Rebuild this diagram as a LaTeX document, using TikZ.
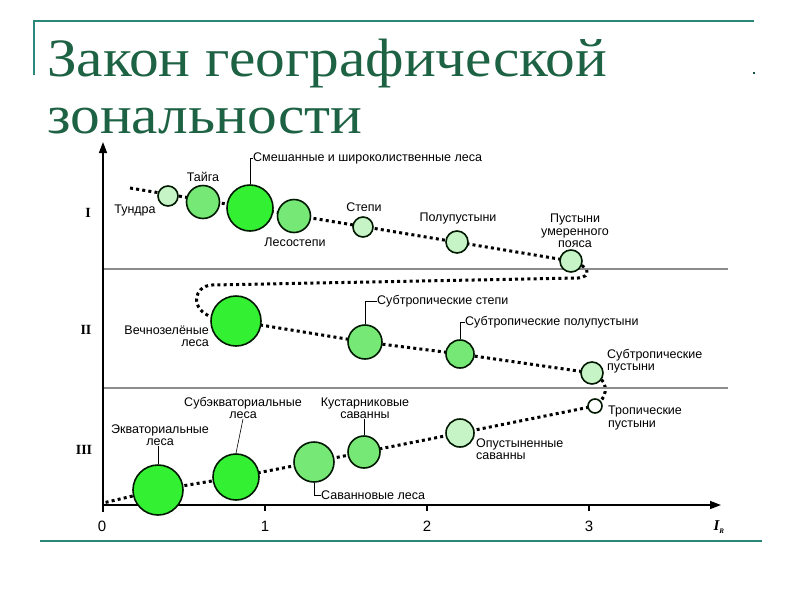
\documentclass[tikz,border=0pt]{standalone}
\usepackage{fontspec}
\setmainfont{Liberation Serif}
\setsansfont{Liberation Sans}
\usetikzlibrary{positioning}
\usetikzlibrary{calc}
\usetikzlibrary{arrows.meta}
\usetikzlibrary{backgrounds}
\definecolor{rich}{RGB}{51,240,51}
\definecolor{mid}{RGB}{118,232,118}
\definecolor{pale}{RGB}{198,244,198}
\definecolor{titlegreen}{RGB}{30,98,68}
\definecolor{frameteal}{RGB}{42,136,122}
\definecolor{bandgray}{RGB}{140,140,140}

\begin{document}
\begin{tikzpicture}[
    x=1pt, y=-1pt,
    biome/.style={circle, draw=black!90!green, line width=1.6pt, inner sep=0pt},
    lab/.style={font=\sffamily\fontsize{12.5}{12.3}\selectfont, align=center, inner sep=0pt},
    dots/.style={line width=3pt, dash pattern=on 3pt off 3.2pt},
    leader/.style={line width=0.6pt},
    zonenum/.style={font=\fontsize{14}{14}\selectfont\bfseries, inner sep=0pt},
    ticklab/.style={font=\sffamily\fontsize{15}{15}\selectfont, inner sep=0pt},
    heading/.style={anchor=base west, inner sep=0pt, text=titlegreen, font=\fontsize{54}{54}\selectfont, xscale=1.1, transform shape},
    >=Latex
]
    \useasboundingbox (0,0) rectangle (800,600);

    % frame of the slide
    \draw[frameteal, line width=1.6pt] (34,75) -- (34,21) -- (754,21);
    \fill[frameteal!60!black] (753,72) rectangle (755,74);
    \draw[frameteal, line width=1.6pt] (40,541) -- (762,541);

    % title
    \node[heading] (title1) at (47,76) {Закон географической};
    \node[heading] (title2) at (47,133) {зональности};

    % axes
    \coordinate (origin) at (103,505);
    \coordinate (ybot) at (103,512);
    \coordinate (ytop) at (103,142);
    \coordinate (xend) at (721,505);
    \draw[bandgray, line width=1.3pt] (103,269) -- (728,269);
    \draw[bandgray, line width=1.3pt] (103,388) -- (728,388);
    \draw[line width=1.5pt, -{Triangle[length=11pt, width=8pt]}] (ybot) -- (ytop);
    \draw[line width=1.5pt, -{Triangle[length=11pt, width=8pt]}] (origin) -- (xend);
    \foreach \k/\xx in {1/265, 2/427, 3/589} {
        \draw[line width=1.2pt] (\xx,505) -- (\xx,511);
        \node[ticklab] (tick\k) at (\xx,526) {\k};
    }
    \node[ticklab] (tick0) at (102,526) {0};
    \node[inner sep=0pt, font=\fontsize{15}{15}\selectfont\bfseries\itshape] (ir) at (719,527) {I\textsubscript{\fontsize{7}{7}\selectfont R}};

    \node[zonenum] (zone1) at (88,213) {I};
    \node[zonenum] (zone2) at (86,330) {II};
    \node[zonenum] (zone3) at (84,450) {III};

    % biomes
    \coordinate (start) at (130,188);
    \node[biome, fill=pale, minimum size=20pt] (tundra) at (168,196) {};
    \node[biome, fill=mid, minimum size=33pt] (taiga) at (203,202) {};
    \node[biome, fill=rich, minimum size=46pt] (mixed) at (250,208) {};
    \node[biome, fill=mid, minimum size=33pt] (forstep) at (294,216) {};
    \node[biome, fill=pale, minimum size=20pt] (steppe) at (363,227) {};
    \node[biome, fill=pale, minimum size=22pt] (semides) at (457,242) {};
    \node[biome, fill=pale, minimum size=22pt] (tempdes) at (571,261) {};

    \node[biome, fill=rich, minimum size=50pt] (evergreen) at (236,321) {};
    \node[biome, fill=mid, minimum size=34pt] (substeppe) at (365,342) {};
    \node[biome, fill=mid, minimum size=28pt] (subsemi) at (460,354) {};
    \node[biome, fill=pale, minimum size=22pt] (subdes) at (592,373) {};

    \node[biome, fill=white, minimum size=14pt] (tropdes) at (595,406) {};
    \node[biome, fill=pale, minimum size=28pt] (desav) at (460,433) {};
    \node[biome, fill=mid, minimum size=32pt] (shrubsav) at (364,452) {};
    \node[biome, fill=mid, minimum size=40pt] (savfor) at (314,462) {};
    \node[biome, fill=rich, minimum size=46pt] (subeq) at (236,477) {};
    \node[biome, fill=rich, minimum size=50pt] (equat) at (158,490) {};
    \coordinate (finish) at (103,503);

    % the dotted track behind the circles
    \begin{pgfonlayer}{background}
    \draw[dots] (start) -- (tempdes.center)
        .. controls (590,266) and (592,277) .. (578,278)
        -- (212,285) .. controls (193,286) and (190,310) .. (212,317)
        -- (evergreen.center) -- (substeppe.center) -- (subsemi.center) -- (subdes.center)
        .. controls (606,378) and (612,394) .. (tropdes.center)
        -- (desav.center) -- (shrubsav.center) -- (savfor.center) -- (subeq.center) -- (equat.center) -- (finish);
    \end{pgfonlayer}

    % labels
    \node[lab] (tundralab) at (135,210) {Тундра};
    \node[lab] (taigalab) at (203,177) {Тайга};
    \node[lab, anchor=west] (mixedlab) at (253,158) {Смешанные и широколиственные леса};
    \node[lab] (forsteplab) at (295,242) {Лесостепи};
    \node[lab] (steppelab) at (364,207) {Степи};
    \node[lab] (semideslab) at (458,218) {Полупустыни};
    \node[lab] (tempdeslab) at (575,231) {Пустыни\\умеренного\\пояса};

    \node[lab, anchor=east, align=right] (evergreenlab) at (209,336) {Вечнозелёные\\леса};
    \node[lab, anchor=west] (substeppelab) at (377,301) {Субтропические степи};
    \node[lab, anchor=west] (subsemilab) at (465,322) {Субтропические полупустыни};
    \node[lab, anchor=west, align=left] (subdeslab) at (607,361) {Субтропические\\пустыни};

    \node[lab, anchor=west, align=left] (tropdeslab) at (608,418) {Тропические\\пустыни};
    \node[lab, anchor=west, align=left] (desavlab) at (476,449) {Опустыненные\\саванны};
    \node[lab] (shrubsavlab) at (365,408) {Кустарниковые\\саванны};
    \node[lab, anchor=west] (savforlab) at (321,495) {Саванновые леса};
    \node[lab] (subeqlab) at (243,408) {Субэкваториальные\\леса};
    \node[lab] (equatlab) at (160,435) {Экваториальные\\леса};

    % leaders
    \draw[leader] (mixed.north) |- (mixedlab.west);
    \draw[leader] (substeppe.north) |- (substeppelab.west);
    \draw[leader] (subsemi.north) |- (subsemilab.west);
    \draw[leader] (savfor.south) |- (savforlab.west);
    \draw[leader] (equat.north) -- (equat.north |- equatlab.south);
    \draw[leader] (subeq.north) -- (subeqlab.south);
    \draw[leader] (shrubsav.north) -- (shrubsav.north |- shrubsavlab.south);
\end{tikzpicture}
\end{document}
